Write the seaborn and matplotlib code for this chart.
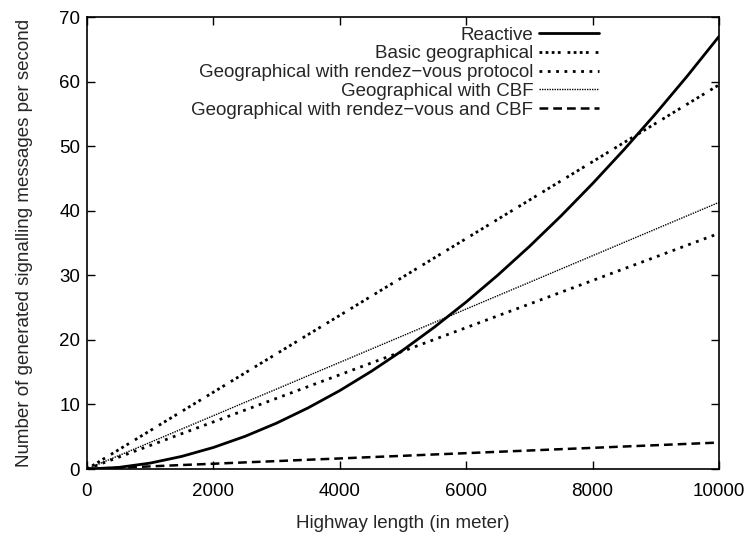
import matplotlib
matplotlib.use("Agg")
import matplotlib.pyplot as plt
import seaborn as sns
import pandas as pd

sns.set_theme(style="ticks")
plt.rcParams['font.family'] = ['Liberation Sans', 'DejaVu Sans']

length = [0, 500, 1000, 1500, 2000, 2500, 3000, 3500, 4000, 4500, 5000,
          5500, 6000, 6500, 7000, 7500, 8000, 8500, 9000, 9500, 10000]
reactive = [0, 0.25, 0.92, 1.96, 3.34, 5.06, 7.11, 9.48, 12.15, 15.14, 18.42,
            22.0, 25.87, 30.03, 34.47, 39.2, 44.21, 49.5, 55.06, 60.89, 67.0]
basic_geo = [0, 2.98, 5.95, 8.93, 11.9, 14.88, 17.85, 20.83, 23.8, 26.78, 29.75,
             32.73, 35.7, 38.68, 41.65, 44.63, 47.6, 50.58, 53.55, 56.53, 59.5]
geo_rdv = [0, 1.83, 3.65, 5.48, 7.3, 9.13, 10.95, 12.78, 14.6, 16.43, 18.25,
           20.08, 21.9, 23.73, 25.55, 27.38, 29.2, 31.03, 32.85, 34.68, 36.5]
geo_cbf = [0, 2.07, 4.13, 6.2, 8.26, 10.33, 12.39, 14.46, 16.52, 18.59, 20.65,
           22.72, 24.78, 26.85, 28.91, 30.98, 33.04, 35.11, 37.17, 39.24, 41.3]
geo_rdv_cbf = [0, 0.21, 0.41, 0.62, 0.82, 1.03, 1.23, 1.44, 1.64, 1.85, 2.05,
               2.26, 2.46, 2.67, 2.87, 3.08, 3.28, 3.49, 3.69, 3.9, 4.1]

series_names = ["Reactive", "Basic geographical", "Geographical with rendez\u2212vous protocol",
                "Geographical with CBF", "Geographical with rendez\u2212vous and CBF"]
series_values = [reactive, basic_geo, geo_rdv, geo_cbf, geo_rdv_cbf]
styles = [
    dict(linestyle="-", linewidth=2.0),
    dict(linestyle=(0, (1, 1.2, 1, 1.2, 1, 1.2, 1, 2.5)), linewidth=2.0),
    dict(linestyle=(0, (1, 2)), linewidth=2.0),
    dict(linestyle=(0, (1, 0.8)), linewidth=1.0),
    dict(linestyle=(0, (3.5, 2)), linewidth=1.8),
]

fs = 13.5
fig = plt.figure(figsize=(7.51, 5.33), dpi=100)
ax = fig.add_axes([0.1158, 0.120, 0.9574 - 0.1158, 0.968 - 0.120])

for name, vals, st in zip(series_names, series_values, styles):
    df = pd.DataFrame({"x": length, "y": vals})
    sns.lineplot(data=df, x="x", y="y", ax=ax, color="black", label=name, **st)

ax.set_xlim(0, 10000)
ax.set_ylim(0, 70)
ax.set_xticks(range(0, 10001, 2000))
ax.set_yticks(range(0, 71, 10))
ax.tick_params(direction="in", top=True, right=True, length=6, width=1, labelsize=fs, colors="black")
ax.tick_params(axis="x", pad=10)
ax.tick_params(axis="y", pad=5)
for s in ax.spines.values():
    s.set_color("black")
    s.set_linewidth(1.2)
ax.set_xlabel("Highway length (in meter)", fontsize=fs, labelpad=11)
ax.set_ylabel("Number of generated signalling messages per second", fontsize=fs, labelpad=19)

leg = ax.legend(loc="upper right", bbox_to_anchor=(0.825, 1.0), frameon=False,
                markerfirst=False, fontsize=fs, handlelength=3.2, labelspacing=0.09,
                handletextpad=0.3, borderaxespad=0.2, borderpad=0.3)

fig.savefig("out.png", dpi=100)
